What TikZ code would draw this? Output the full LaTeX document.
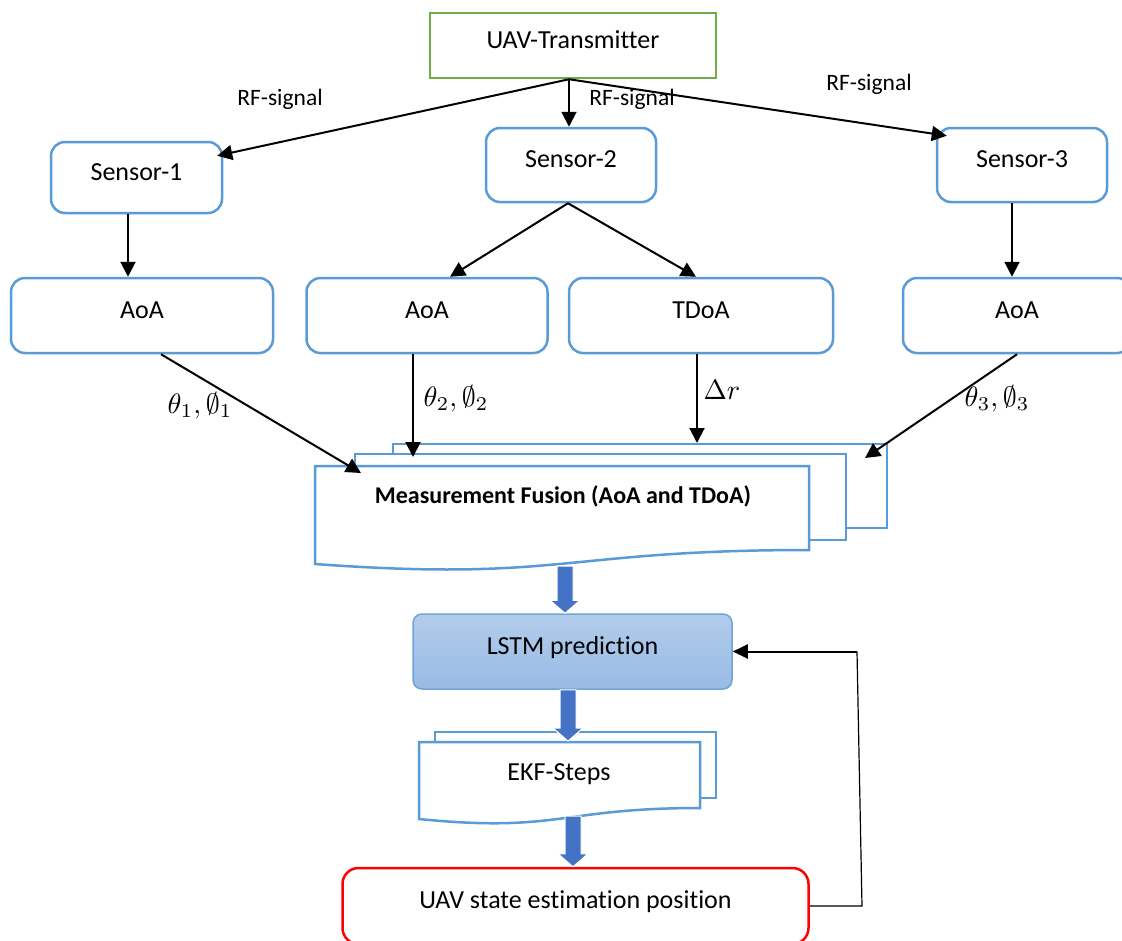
\documentclass[tikz,border=0pt]{standalone}
\usepackage{graphicx}
\usepackage{fontspec}
\setmainfont{Carlito}[Ligatures=NoCommon]
\usetikzlibrary{arrows.meta,calc}
\definecolor{boxblue}{HTML}{5B9BD5}
\definecolor{txgreen}{HTML}{70AD47}
\definecolor{fatblue}{HTML}{4472C4}
\definecolor{lstmtop}{HTML}{B2CDEB}
\definecolor{lstmbot}{HTML}{98BAE4}
\definecolor{lstmline}{HTML}{6FA3DA}
\definecolor{statered}{HTML}{FF0000}
\newcommand\fatarr[2]{%
  \fill[fatblue,draw=white,line width=1pt]
    ($(#1)+(-8,0)$) -- ($(#1)+(8,0)$) -- ($(#2)+(8,-13)$) -- ($(#2)+(15,-13)$)
    -- (#2) -- ($(#2)+(-15,-13)$) -- ($(#2)+(-8,-13)$) -- cycle;}
\newcommand\bigmath[1]{\scalebox{2.8}{$#1$}}
\begin{document}
\begin{tikzpicture}[x=1pt,y=-1pt,
  txt/.style={font=\fontsize{26}{31}\selectfont},
  rftxt/.style={font=\fontsize{23.5}{28}\selectfont, anchor=base, inner sep=0pt},
  mathtxt/.style={font=\fontsize{10}{12}\selectfont, anchor=base, inner sep=0pt},
  boxtext/.style={txt, inner sep=0pt, text height=19pt, text depth=14pt},
  bbox/.style={boxtext, draw=boxblue, line width=2.5pt, rounded corners=14pt},
  arr/.style={draw=black, line width=2pt, -{Triangle[length=15pt,width=15pt]}},
  docl/.style={draw=boxblue, line width=2.5pt, fill=white, line join=miter},
]
\clip (0,0) rectangle (1122,940);
\fill[white] (0,0) rectangle (1122,940);

% top box
\node[boxtext, draw=txgreen, line width=2.5pt, minimum width=286pt, minimum height=65pt] (tx) at (573,45.5) {UAV-Transmitter};

% sensors
\node[bbox, minimum width=171pt, minimum height=71pt] (s1) at (136.5,177.5) {Sensor-1};
\node[bbox, minimum width=170pt, minimum height=74pt] (s2) at (571,165) {Sensor-2};
\node[bbox, minimum width=170pt, minimum height=74pt] (s3) at (1022,165) {Sensor-3};

% measurement boxes
\node[bbox, minimum width=262pt, minimum height=75pt] (aoa1) at (142,315.5) {AoA};
\node[bbox, minimum width=241pt, minimum height=75pt] (aoa2) at (427,315.5) {AoA};
\node[bbox, minimum width=264pt, minimum height=75pt] (tdoa) at (701,315.5) {TDoA};
\node[bbox, minimum width=228pt, minimum height=75pt] (aoa3) at (1017,315.5) {AoA};

% fusion multi-document
\filldraw[docl] (393,444) rectangle (887,528);
\filldraw[docl] (355,454) rectangle (846,540);
\filldraw[docl] (315,466) -- (809,466) -- (809,550) .. controls (562,550) and (562,582) .. (315,564) -- cycle;
\node[font=\fontsize{24}{29}\selectfont\bfseries, anchor=base, inner sep=0pt] (fuslbl) at (563,503) {Measurement Fusion (AoA and TDoA)};
\coordinate (f1) at (361,473);
\coordinate (f2) at (413,457);
\coordinate (f3) at (697,443);
\coordinate (f4) at (865,458);
\coordinate (fusbot) at (565,566);

% LSTM
\node[boxtext, draw=lstmline, line width=1.5pt, rounded corners=9pt, top color=lstmtop, bottom color=lstmbot, minimum width=319pt, minimum height=75pt] (lstm) at (572.5,651.5) {LSTM prediction};

% EKF multi-document
\filldraw[docl] (435,732) rectangle (716,798);
\filldraw[docl] (419,742) -- (700,742) -- (700,808) .. controls (559.5,808) and (559.5,833) .. (419,819) -- cycle;
\node[txt, anchor=base, inner sep=0pt] (ekflbl) at (559,780) {EKF-Steps};
\coordinate (ekftop) at (568,741);
\coordinate (ekfbot) at (573,816);

% state
\node[boxtext, draw=statered, line width=2.5pt, rounded corners=16pt, minimum width=466pt, minimum height=76pt] (state) at (575.5,906) {UAV state estimation position};

% arrows from transmitter
\coordinate (txo) at ([xshift=-4pt]tx.south);
\draw[arr] (txo) -- ([xshift=-6pt,yshift=-15pt]s1.north east);
\draw[arr] (txo) -- (txo |- s2.north);
\draw[arr] (txo) -- ([xshift=11pt,yshift=-9pt]s3.north west);
\node[rftxt] (rf1) at (280,105) {RF-signal};
\node[rftxt] (rf2) at (632,105) {RF-signal};
\node[rftxt] (rf3) at (869,90) {RF-signal};

% sensors to measurements
\draw[arr] ([xshift=-8.5pt]s1.south) -- ([xshift=-14pt]aoa1.north);
\coordinate (s2o) at ([xshift=-3pt]s2.south);
\draw[arr] (s2o) -- ([xshift=23pt]aoa2.north);
\draw[arr] (s2o) -- ([xshift=-5pt]tdoa.north);
\draw[arr] ([xshift=-10pt]s3.south) -- ([xshift=-5pt]aoa3.north);

% measurements to fusion
\draw[arr] ([xshift=19pt]aoa1.south) -- (f1);
\draw[arr] (aoa2.south -| f2) -- (f2);
\draw[arr] (tdoa.south -| f3) -- (f3);
\draw[arr] (aoa3.south) -- (f4);
\node[mathtxt] (l1) at (200,413) {\bigmath{\theta_1,\emptyset_1}};
\node[mathtxt] (l2) at (456,406) {\bigmath{\theta_2,\emptyset_2}};
\node[mathtxt] (l3) at (722,399) {\bigmath{\Delta r}};
\node[mathtxt] (l4) at (997,406) {\bigmath{\theta_3,\emptyset_3}};

% block arrows
\coordinate (a1tip) at (fusbot |- lstm.north);
\fatarr{fusbot}{a1tip}
\coordinate (a2s) at (lstm.south -| ekftop);
\fatarr{a2s}{ekftop}
\coordinate (a3tip) at (ekfbot |- state.north);
\fatarr{ekfbot}{a3tip}

% feedback
\coordinate (fbA) at (862,906);
\coordinate (fbB) at (857,651.5);
\draw[line width=1.2pt] (state.east) -- (fbA) -- (fbB);
\draw[line width=2pt, -{Triangle[length=15pt,width=14pt]}] (fbB) -- (lstm.east);
\end{tikzpicture}
\end{document}
